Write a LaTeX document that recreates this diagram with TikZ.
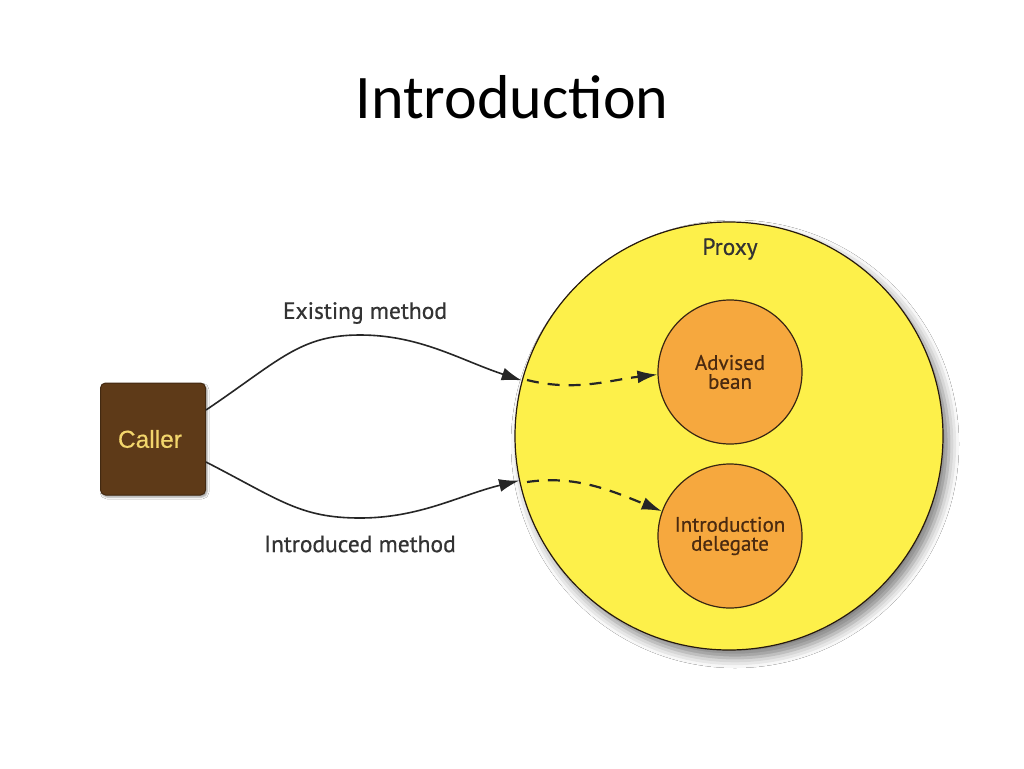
\documentclass[tikz,border=0pt]{standalone}
\usepackage{fontspec}
\setmainfont{Carlito}
\newfontface\labfont{PT Sans}[FakeBold=0.6]
\newfontface\arialfont{Liberation Sans}[FakeBold=0.4]
\usetikzlibrary{arrows.meta,shadows.blur,shapes.geometric}
\definecolor{proxyyellow}{HTML}{FDF04A}
\definecolor{beanorange}{HTML}{F6A83E}
\definecolor{callerbrown}{HTML}{5E3A18}
\definecolor{callertext}{HTML}{F3D66C}
\definecolor{labgray}{HTML}{333333}
\definecolor{beantext}{HTML}{4A2A10}
\tikzset{
  bigcircle/.style={circle, draw=black!80!brown, line width=1.2pt, fill=proxyyellow, minimum size=428pt, inner sep=0pt,
    blur shadow={shadow xshift=6pt, shadow yshift=-8pt, shadow blur radius=10pt, shadow opacity=50}},
  bean/.style={circle, draw=black!70!brown, line width=1.2pt, fill=beanorange, minimum size=144pt, inner sep=0pt,
    text=beantext, font=\labfont\fontsize{21}{23}\selectfont, align=center},
  callerbox/.style={draw=callerbrown!70!black, line width=1pt, fill=callerbrown, minimum width=105pt, minimum height=112pt,
    rounded corners=5pt, text=callertext, font=\arialfont\fontsize{24.5}{26}\selectfont,
    blur shadow={shadow xshift=1.5pt, shadow yshift=-2pt, shadow blur radius=2pt, shadow opacity=40}},
  lab/.style={text=labgray, font=\labfont\fontsize{23.5}{25}\selectfont},
  solidarrow/.style={draw=black!85, line width=1.6pt, -{Latex[length=20pt,width=13pt]}},
  dasharrow/.style={draw=black!85, line width=2.2pt, dash pattern=on 12pt off 9pt, -{Latex[length=20pt,width=13pt]}},
}
\begin{document}
\begin{tikzpicture}[x=1pt,y=-1pt]
\useasboundingbox (0,0) rectangle (1024,768);
\fill[white] (0,0) rectangle (1024,768);
\node[font=\fontsize{62}{70}\selectfont] (title) at (512,97) {Introduction};
\node[bigcircle] (proxy) at (729,436) {};
\node[lab] (proxylab) at (730,249) {Proxy};
\node[bean] (bean) at (730,372) {Advised\\[-4pt]bean};
\node[bean] (deleg) at (730,536) {Introduction\\[-4pt]delegate};
\node[callerbox] (caller) at (153,439) {\hspace*{-6pt}Caller};
\node[lab] (exlab) at (365,313) {Existing method};
\node[lab] (inlab) at (360,544) {Introduced method};
\coordinate (topstart) at ([yshift=29pt]caller.east);
\coordinate (botstart) at ([yshift=-23pt]caller.east);
\coordinate (toppeak) at (360,335);
\coordinate (botlow) at (360,518);
\draw[solidarrow] (topstart) .. controls (280,360) and (300,335) .. (toppeak)
  .. controls (420,335) and (460,360) .. (proxy.165.5);
\draw[solidarrow] (botstart) .. controls (280,500) and (300,518) .. (botlow)
  .. controls (420,518) and (460,495) .. (proxy.192.6);
\coordinate (d1s) at (527,380);
\coordinate (d2s) at (527,482);
\draw[dasharrow] (d1s) .. controls (575,392) and (610,380) .. (bean.182);
\draw[dasharrow] (d2s) .. controls (575,475) and (610,490) .. (deleg.160);
\end{tikzpicture}
\end{document}
